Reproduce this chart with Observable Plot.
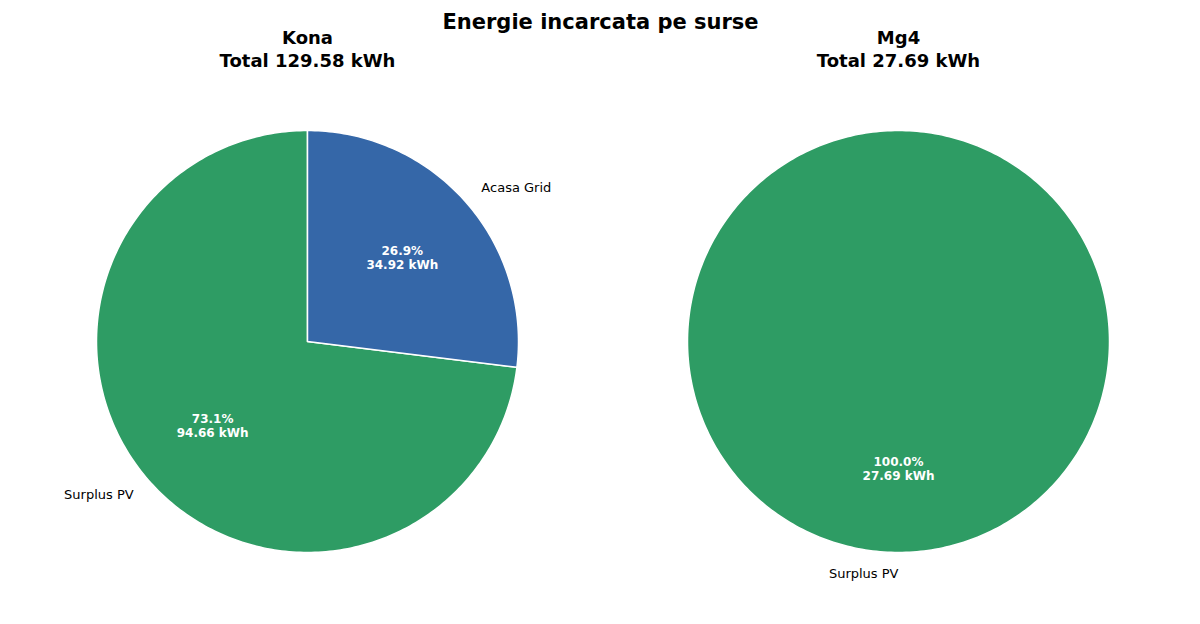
<!DOCTYPE html>
<html><head><meta charset="utf-8">
<script src="https://cdn.jsdelivr.net/npm/d3@7"></script>
<script src="https://cdn.jsdelivr.net/npm/@observablehq/plot@0.6"></script>
<style>body{margin:0;background:#fff}</style>
</head><body><div id="c"></div>
<script>
const chartTitle = "Energie incarcata pe surse";
const cars = ["Kona", "Mg4"];
const konaSources = ["Surplus PV", "Acasa Grid"];
const konaValues = [94.66, 34.92];
const mg4Sources = ["Surplus PV"];
const mg4Values = [27.69];
const colors = {"Surplus PV": "#2e9c64", "Acasa Grid": "#3567a8"};

const W = 1200, H = 624, R = 211;
const pies = [
  {car: cars[0], cx: 307, cy: 341, sources: konaSources, values: konaValues},
  {car: cars[1], cx: 898, cy: 341, sources: mg4Sources, values: mg4Values}
];
const poly = [], pct = [], lbl = [], titles = [];
for (const p of pies) {
  const tot = d3.sum(p.values);
  titles.push({x: p.cx, y: 38, t: p.car});
  titles.push({x: p.cx, y: 61, t: `Total ${tot.toFixed(2)} kWh`});
  let a = 90;
  p.values.forEach((v, i) => {
    const frac = v / tot, span = frac * 360, key = p.car + i;
    const pt = (deg, r) => [p.cx + r * Math.cos(deg * Math.PI / 180), p.cy - r * Math.sin(deg * Math.PI / 180)];
    if (frac < 1) { const [x, y] = pt(0, 0); poly.push({x, y, k: key, s: p.sources[i]}); }
    const n = Math.ceil(span);
    for (let j = 0; j <= n; j++) { const [x, y] = pt(a + span * j / n, R); poly.push({x, y, k: key, s: p.sources[i]}); }
    if (frac < 1) { const [x, y] = pt(0, 0); poly.push({x, y, k: key, s: p.sources[i]}); }
    const mid = a + span / 2;
    const [px, py] = pt(mid, 0.6 * R);
    pct.push({x: px, y: py, t: `${(frac * 100).toFixed(1)}%\n${v.toFixed(2)} kWh`});
    const [lx, ly] = pt(mid, 1.1 * R);
    lbl.push({x: lx, y: ly, t: p.sources[i], a: Math.cos(mid * Math.PI / 180) > 1e-9 ? "start" : "end"});
    a += span;
  });
}
const chart = Plot.plot({
  width: W, height: H, margin: 0,
  x: {domain: [0, W], range: [0, W], axis: null},
  y: {domain: [0, H], range: [0, H], axis: null},
  style: {fontFamily: "DejaVu Sans"},
  marks: [
    Plot.line(poly, {x: "x", y: "y", z: "k", fill: d => colors[d.s], stroke: "white", strokeWidth: 1.5, curve: "linear"}),
    Plot.text(pct, {x: "x", y: "y", text: "t", fill: "white", fontWeight: "bold", fontSize: 12, lineHeight: 1.2}),
    Plot.text(lbl.filter(d => d.a === "start"), {x: "x", y: "y", text: "t", textAnchor: "start", fontSize: 13, fill: "black"}),
    Plot.text(lbl.filter(d => d.a === "end"), {x: "x", y: "y", text: "t", textAnchor: "end", fontSize: 13, fill: "black"}),
    Plot.text(titles, {x: "x", y: "y", text: "t", fontWeight: "bold", fontSize: 18, fill: "black"}),
    Plot.text([chartTitle], {x: W / 2, y: 22, text: d => d, fontWeight: "bold", fontSize: 21, fill: "black"})
  ]
});
document.getElementById("c").appendChild(chart);
</script></body></html>
